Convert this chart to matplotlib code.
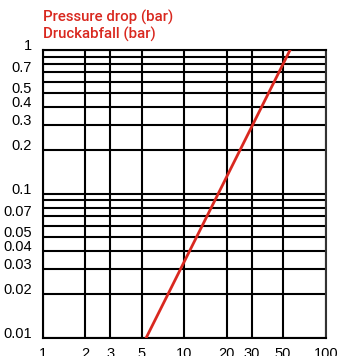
import matplotlib
matplotlib.use("Agg")
import matplotlib.pyplot as plt
from matplotlib.ticker import FixedLocator, FixedFormatter, NullLocator

# Data
flow = [5.4, 56]          # x values of the characteristic line
pressure_drop = [0.01, 1]  # y values (bar)

x_grid = [1, 2, 3, 5, 10, 20, 30, 50, 100]
x_labels = ["1", "2", "3", "5", "10", "20", "30", "50", "100"]
y_grid = [0.01, 0.02, 0.03, 0.04, 0.05, 0.06, 0.07, 0.08, 0.09,
          0.1, 0.2, 0.3, 0.4, 0.5, 0.6, 0.7, 0.8, 0.9, 1]
y_labeled = {0.01: "0.01", 0.02: "0.02", 0.03: "0.03", 0.04: "0.04", 0.05: "0.05",
             0.07: "0.07", 0.1: "0.1", 0.2: "0.2", 0.3: "0.3", 0.4: "0.4",
             0.5: "0.5", 0.7: "0.7", 1: "1"}
title_lines = ["Pressure drop (bar)", "Druckabfall (bar)"]

RED = "#d9281f"

fig = plt.figure(figsize=(3.38, 3.56), dpi=100)
ax = fig.add_axes([42.7 / 338, 18.5 / 356, 283 / 338, 287.5 / 356])
ax.set_xscale("log")
ax.set_yscale("log")
ax.set_xlim(1, 100)
ax.set_ylim(0.01, 1)

ax.xaxis.set_major_locator(FixedLocator(x_grid))
ax.xaxis.set_major_formatter(FixedFormatter(x_labels))
ax.xaxis.set_minor_locator(NullLocator())
ax.yaxis.set_major_locator(FixedLocator(y_grid))
ax.yaxis.set_major_formatter(FixedFormatter([y_labeled.get(v, "") for v in y_grid]))
ax.yaxis.set_minor_locator(NullLocator())

ax.grid(True, which="major", color="black", linewidth=1.5, zorder=1)
ax.tick_params(axis="both", length=0, labelsize=10.5)
ax.tick_params(axis="x", pad=7)
ax.tick_params(axis="y", pad=8)
for lab in ax.get_yticklabels():
    lab.set_verticalalignment("baseline")
    lab.set_fontfamily("Liberation Sans")
for lab in ax.get_xticklabels():
    lab.set_fontfamily("Liberation Sans")

for s in ax.spines.values():
    s.set_linewidth(1.5)
    s.set_color("black")
ax.spines["right"].set_color("#333333")

ax.plot(flow, pressure_drop, color=RED, linewidth=2, zorder=3, clip_on=True)

fig.text(43 / 338, 1 - 22 / 356, title_lines[0], color=RED, fontsize=10.8,
         family="Roboto", fontweight="medium", va="baseline", ha="left")
fig.text(43 / 338, 1 - 39 / 356, title_lines[1], color=RED, fontsize=10.8,
         family="Roboto", fontweight="medium", va="baseline", ha="left")

fig.savefig("out.png", dpi=100)
